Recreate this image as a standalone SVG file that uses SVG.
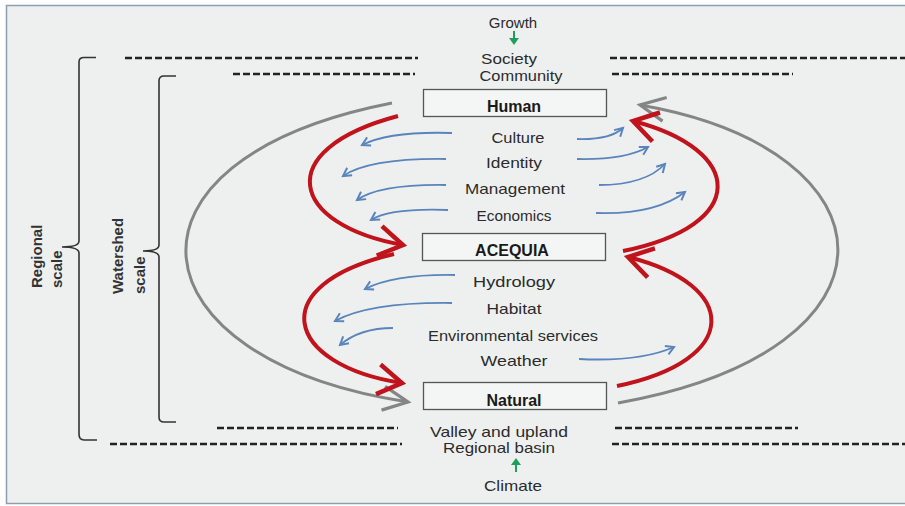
<svg xmlns="http://www.w3.org/2000/svg" width="905" height="506" viewBox="0 0 905 506">
<defs>
<style>
.t{font-family:"Liberation Sans",Arial,sans-serif;font-size:15px;fill:#2b2b2b;text-anchor:middle}
.b{font-family:"Liberation Sans",Arial,sans-serif;font-size:16px;font-weight:bold;fill:#1a1a1a;text-anchor:middle}
.r{font-family:"Liberation Sans",Arial,sans-serif;font-size:15px;font-weight:bold;fill:#333;text-anchor:start}
.box{fill:#f4f5f5;stroke:#555;stroke-width:1.3}
.dash{stroke:#222;stroke-width:2.4;stroke-dasharray:7 3;fill:none}
.br{stroke:#333;stroke-width:1.6;fill:none}
.red{stroke:#c0131b;stroke-width:4;fill:none;marker-end:url(#mr)}
.gray{stroke:#858585;stroke-width:3;fill:none;marker-end:url(#mg)}
.blue{stroke:#5a84bc;stroke-width:1.8;fill:none;marker-end:url(#mb)}
.grn{stroke:#1fa05a;stroke-width:2;fill:none}
</style>
<marker id="mr" markerUnits="userSpaceOnUse" markerWidth="40" markerHeight="40" refX="0" refY="0" viewBox="-30 -20 40 40" orient="auto" overflow="visible">
<path d="M-24,-15 L0,0 L-24,15" fill="none" stroke="#c0131b" stroke-width="4.5" stroke-linejoin="miter"/>
</marker>
<marker id="mg" markerUnits="userSpaceOnUse" markerWidth="40" markerHeight="40" refX="0" refY="0" viewBox="-30 -20 40 40" orient="auto" overflow="visible">
<path d="M-25,-12 L0,0 L-25,12" fill="none" stroke="#858585" stroke-width="3.2"/>
</marker>
<marker id="mb" markerUnits="userSpaceOnUse" markerWidth="20" markerHeight="20" refX="0" refY="0" viewBox="-10 -10 20 20" orient="auto" overflow="visible">
<path d="M-8,-4.5 L0,0 L-8,4.5" fill="none" stroke="#5a84bc" stroke-width="2"/>
</marker>
</defs>
<rect x="0" y="0" width="905" height="506" fill="#ffffff"/>
<rect x="6.5" y="5.5" width="905" height="498" fill="#eef0f0" stroke="#8d9eae" stroke-width="1.5"/>

<g id="top-labels">
<text class="t" x="513" y="28">Growth</text>
<path class="grn" d="M514,31 L514,40"/>
<path d="M509,38 L519,38 L514,45 Z" fill="#1fa05a"/>
<text class="t" x="509" y="64" textLength="56" lengthAdjust="spacingAndGlyphs">Society</text>
<text class="t" x="521" y="81" textLength="83" lengthAdjust="spacingAndGlyphs">Community</text>
</g>
<g id="bottom-labels">
<text class="t" x="499" y="437" textLength="138" lengthAdjust="spacingAndGlyphs">Valley and upland</text>
<text class="t" x="499" y="453" textLength="112" lengthAdjust="spacingAndGlyphs">Regional basin</text>
<path class="grn" d="M516,472 L516,463"/>
<path d="M511,465 L521,465 L516,458 Z" fill="#1fa05a"/>
<text class="t" x="513" y="491" textLength="58" lengthAdjust="spacingAndGlyphs">Climate</text>
</g>

<g id="dashes">
<path class="dash" d="M125,58 H418 M233,74 H415 M610,58 H905 M612,74 H793"/>
<path class="dash" d="M217,428 H398 M110,444 H402 M615,428 H798 M612,444 H905"/>
</g>

<g id="regional-scale">
<path class="br" d="M96,57.5 H84 Q79,57.5 79,62 V241 Q79,247 62,247 Q79,247 79,253 V434 Q79,440 84,440 H97"/>
<text class="r" transform="translate(42,288) rotate(-90)">Regional</text>
<text class="r" transform="translate(62,288) rotate(-90)">scale</text>
</g>
<g id="watershed-scale">
<path class="br" d="M176,76 H164 Q159,76 159,81 V245 Q159,251 143,251 Q159,251 159,257 V417 Q159,422 164,422 H176"/>
<text class="r" transform="translate(123,294) rotate(-90)">Watershed</text>
<text class="r" transform="translate(145,294) rotate(-90)">scale</text>
</g>

<g id="node-human">
<rect class="box" x="423.5" y="89.5" width="183" height="27"/>
<text class="b" x="514" y="112">Human</text>
</g>
<g id="node-acequia">
<rect class="box" x="422.5" y="233.5" width="183" height="27"/>
<text class="b" x="512" y="256">ACEQUIA</text>
</g>
<g id="node-natural">
<rect class="box" x="423.5" y="382.5" width="183" height="27"/>
<text class="b" x="514" y="406">Natural</text>
</g>

<g id="labels">
<text class="t" x="518" y="143" textLength="53" lengthAdjust="spacingAndGlyphs">Culture</text>
<text class="t" x="514" y="168" textLength="56" lengthAdjust="spacingAndGlyphs">Identity</text>
<text class="t" x="515" y="194" textLength="100" lengthAdjust="spacingAndGlyphs">Management</text>
<text class="t" x="514" y="221" textLength="75" lengthAdjust="spacingAndGlyphs">Economics</text>
<text class="t" x="514" y="287" textLength="82" lengthAdjust="spacingAndGlyphs">Hydrology</text>
<text class="t" x="514" y="314" textLength="55" lengthAdjust="spacingAndGlyphs">Habitat</text>
<text class="t" x="513" y="341" textLength="170" lengthAdjust="spacingAndGlyphs">Environmental services</text>
<text class="t" x="514" y="366" textLength="67" lengthAdjust="spacingAndGlyphs">Weather</text>
</g>

<g id="connectors">
<path class="gray" d="M392,103 C100,160 130,360 408,402"/>
<path class="gray" d="M618,403 C915,350 900,150 640,105"/>
<path class="red" d="M398,116 C270,150 290,225 403,245"/>
<path class="red" d="M394,254 C262,285 285,365 402,383"/>
<path class="red" d="M623,251 C750,225 745,150 633,121"/>
<path class="red" d="M617,386 C742,360 740,285 628,257"/>
<path class="blue" d="M452,133 Q390,131 362,145"/>
<path class="blue" d="M446,159 Q370,158 343,176"/>
<path class="blue" d="M446,185 Q380,184 357,200"/>
<path class="blue" d="M448,210 Q390,208 371,220"/>
<path class="blue" d="M577,139 Q610,140 623,128"/>
<path class="blue" d="M577,159 Q625,160 648,147"/>
<path class="blue" d="M599,185 Q645,185 665,164"/>
<path class="blue" d="M596,213 Q655,215 685,192"/>
<path class="blue" d="M455,275 Q395,274 365,289"/>
<path class="blue" d="M452,303 Q370,302 335,321"/>
<path class="blue" d="M393,328 Q360,328 340,345"/>
<path class="blue" d="M579,359 Q640,362 674,347"/>
</g>
</svg>
